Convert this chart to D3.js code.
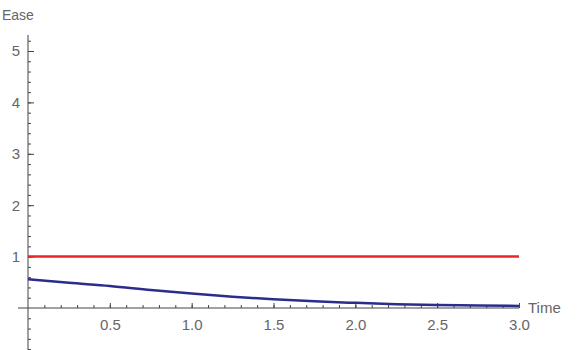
<!DOCTYPE html>
<html>
<head>
<meta charset="utf-8">
<script src="https://cdn.jsdelivr.net/npm/d3@7"></script>
<style>
  body { margin: 0; background: #fff; }
  text { font-family: "Liberation Sans", Arial, sans-serif; fill: #666; }
</style>
</head>
<body>
<svg id="chart" width="577" height="350"></svg>
<script>
// data
const timeValues = [0, 0.25, 0.5, 0.75, 1.0, 1.25, 1.5, 1.75, 2.0, 2.25, 2.5, 2.75, 3.0];
const easeValues = [0.56, 0.49, 0.43, 0.35, 0.28, 0.22, 0.17, 0.13, 0.10, 0.075, 0.06, 0.05, 0.04];
const constTime = [0, 3.0];
const constEase = [1, 1];
const xMajor = [0.5, 1.0, 1.5, 2.0, 2.5, 3.0];
const yMajor = [1, 2, 3, 4, 5];

const svg = d3.select("#chart");

const x = d3.scaleLinear().domain([0, 3]).range([28, 519]);
const y = d3.scaleLinear().domain([0, 5]).range([308, 51]);

// axis lines
svg.append("line")
  .attr("x1", x(0)).attr("x2", x(0))
  .attr("y1", 35).attr("y2", 350)
  .attr("stroke", "#444").attr("stroke-width", 1);
svg.append("line")
  .attr("x1", 18).attr("x2", x(3))
  .attr("y1", y(0)).attr("y2", y(0))
  .attr("stroke", "#444").attr("stroke-width", 1);

// minor ticks
const yMinor = d3.range(-0.8, 5.21, 0.2).map(v => +v.toFixed(1)).filter(v => Math.abs(v) > 1e-6);
const xMinor = d3.range(0.1, 3.01, 0.1).map(v => +v.toFixed(1));

svg.append("g")
  .attr("transform", `translate(${x(0)},0)`)
  .call(d3.axisLeft(y).tickValues(yMinor).tickSize(-3).tickFormat(""))
  .call(g => g.select(".domain").remove())
  .call(g => g.selectAll("line").attr("stroke", "#444"));

svg.append("g")
  .attr("transform", `translate(${x(0)},0)`)
  .call(d3.axisLeft(y).tickValues(yMajor).tickSize(-6).tickPadding(8).tickFormat(d3.format("d")))
  .call(g => g.select(".domain").remove())
  .call(g => g.selectAll("line").attr("stroke", "#444"))
  .call(g => g.selectAll("text").attr("font-size", 15).attr("fill", "#777"));

svg.append("g")
  .attr("transform", `translate(0,${y(0)})`)
  .call(d3.axisBottom(x).tickValues(xMinor).tickSize(-3).tickFormat(""))
  .call(g => g.select(".domain").remove())
  .call(g => g.selectAll("line").attr("stroke", "#444"));

svg.append("g")
  .attr("transform", `translate(0,${y(0)})`)
  .call(d3.axisBottom(x).tickValues(xMajor).tickSize(-5).tickPadding(11).tickFormat(d3.format(".1f")))
  .call(g => g.select(".domain").remove())
  .call(g => g.selectAll("line").attr("stroke", "#444"))
  .call(g => g.selectAll("text").attr("font-size", 15).attr("fill", "#777"));

// axis labels
svg.append("text").attr("x", 2).attr("y", 20).attr("font-size", 14).attr("fill", "#666").text("Ease");
svg.append("text").attr("x", 528).attr("y", 313).attr("font-size", 15).attr("fill", "#666").text("Time");

// series
const line = d3.line().x(d => x(d[0])).y(d => y(d[1])).curve(d3.curveMonotoneX);

svg.append("path")
  .datum(d3.zip(constTime, constEase))
  .attr("d", line)
  .attr("fill", "none")
  .attr("stroke", "#e8262c")
  .attr("stroke-width", 2.5);

svg.append("path")
  .datum(d3.zip(timeValues, easeValues))
  .attr("d", line)
  .attr("fill", "none")
  .attr("stroke", "#2a2d8c")
  .attr("stroke-width", 2.5);
</script>
</body>
</html>
